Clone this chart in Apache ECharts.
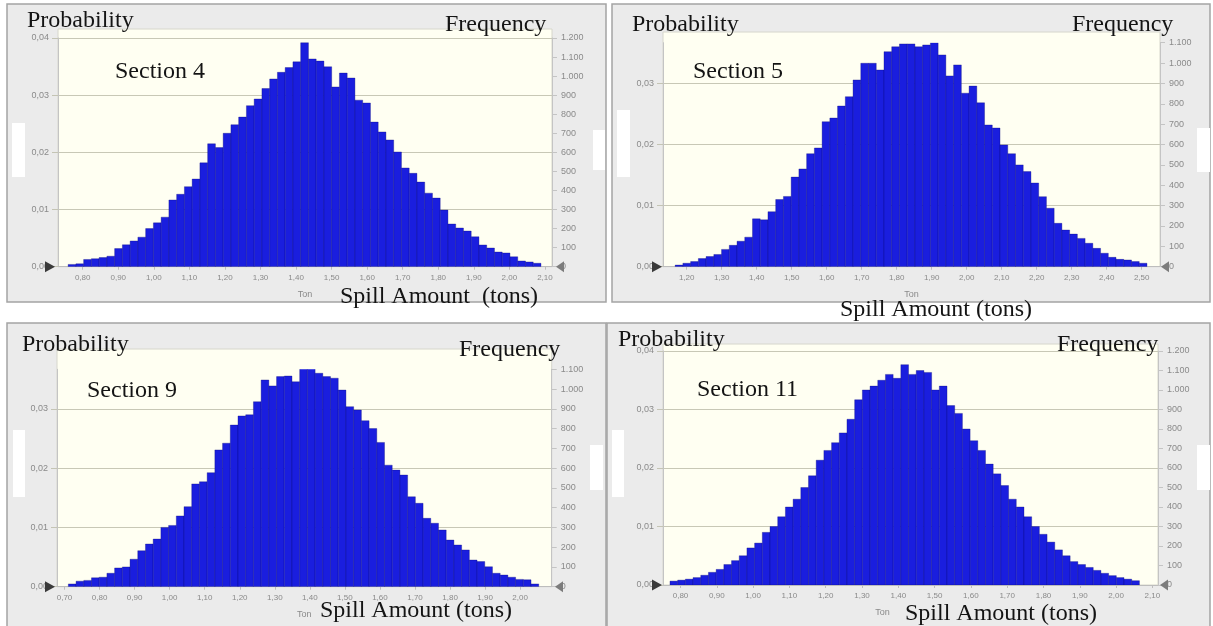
<!DOCTYPE html>
<html>
<head>
<meta charset="utf-8">
<script src="https://cdn.jsdelivr.net/npm/echarts@6/dist/echarts.min.js"></script>
<style>
  html, body { margin: 0; padding: 0; background: #ffffff; }
  #c { width: 1213px; height: 626px; }
</style>
</head>
<body>
<div id="c"></div>
<script>
// Monte Carlo forecast of spill amount, 30,000 trials per section.
// Each array holds the trial count per histogram bin.
const trials = 30000;

const section4Freq = [12, 15, 38, 42, 48, 55, 95, 115, 135, 155,
  200, 230, 260, 350, 380, 420, 460, 545, 645, 625,
  700, 745, 785, 845, 880, 935, 985, 1020, 1045, 1075,
  1175, 1090, 1079, 1049, 943, 1016, 990, 874, 859, 759,
  707, 665, 602, 518, 490, 444, 386, 360, 297, 224,
  203, 187, 157, 114, 98, 77, 72, 52, 30, 25, 18];
const section4Bins = [0.759, 0.0218];   // first bin edge, bin width (tons)

const section5Freq = [8, 17, 25, 40, 50, 60, 85, 105, 125, 145,
  235, 230, 270, 330, 345, 440, 480, 555, 583, 712,
  730, 789, 835, 917, 999, 999, 966, 1056, 1080, 1094,
  1094, 1080, 1089, 1100, 1040, 937, 991, 852, 887, 805,
  696, 681, 598, 555, 500, 467, 411, 344, 287, 213,
  180, 160, 139, 115, 90, 66, 46, 36, 33, 25, 17];
const section5Bins = [1.167, 0.0221];

const section9Freq = [14, 28, 32, 45, 48, 68, 95, 100, 139, 182,
  216, 241, 300, 310, 358, 405, 520, 531, 577, 692,
  726, 818, 864, 870, 936, 1046, 1016, 1063, 1066, 1037,
  1150, 1105, 1080, 1063, 1055, 995, 911, 894, 840, 800,
  730, 615, 590, 565, 455, 422, 346, 321, 287, 236,
  211, 186, 135, 127, 101, 68, 59, 48, 37, 35, 14];
const section9Bins = [0.711, 0.0220];

const section11Freq = [20, 25, 30, 38, 50, 65, 80, 105, 125, 150,
  190, 215, 270, 300, 350, 400, 440, 500, 560, 640,
  690, 730, 780, 850, 950, 1000, 1020, 1050, 1080, 1060,
  1130, 1080, 1100, 1090, 1000, 1020, 920, 880, 800, 740,
  690, 620, 570, 510, 440, 400, 350, 300, 260, 220,
  180, 150, 120, 105, 90, 75, 60, 48, 38, 30, 22];
const section11Bins = [0.771, 0.0212];

// Tick labels
const section4Ticks = [0.8, 0.9, 1.0, 1.1, 1.2, 1.3, 1.4, 1.5, 1.6, 1.7, 1.8, 1.9, 2.0, 2.1];
const section5Ticks = [1.2, 1.3, 1.4, 1.5, 1.6, 1.7, 1.8, 1.9, 2.0, 2.1, 2.2, 2.3, 2.4, 2.5];
const section9Ticks = [0.7, 0.8, 0.9, 1.0, 1.1, 1.2, 1.3, 1.4, 1.5, 1.6, 1.7, 1.8, 1.9, 2.0];
const section11Ticks = [0.8, 0.9, 1.0, 1.1, 1.2, 1.3, 1.4, 1.5, 1.6, 1.7, 1.8, 1.9, 2.0, 2.1];
const probTicksTo04 = [0, 0.01, 0.02, 0.03, 0.04];
const probTicksTo03 = [0, 0.01, 0.02, 0.03];
const freqTicksTo1200 = [0, 100, 200, 300, 400, 500, 600, 700, 800, 900, 1000, 1100, 1200];
const freqTicksTo1100 = [0, 100, 200, 300, 400, 500, 600, 700, 800, 900, 1000, 1100];

// Panel layout (pixels)
const panels = [
  {
    title: 'Section 4', freq: section4Freq, bins: section4Bins, ticks: section4Ticks,
    probTicks: probTicksTo04, freqTicks: freqTicksTo1200, freqMax: 1200,
    box: [7, 4, 599, 298], cream: [58, 29, 494, 237.7],
    grid: { left: 58, top: 38, width: 494, height: 228.7 }, xRange: [0.7305, 2.1198],
    prob: [27, 21], freqText: [445, 25], section: [115, 72],
    spill: [340, 297, 'Spill Amount  (tons)'], tonShift: 0,
    patches: [[12, 123, 13, 54], [593, 130, 12, 40]],
    tri: [45, 556, 266.7]
  },
  {
    title: 'Section 5', freq: section5Freq, bins: section5Bins, ticks: section5Ticks,
    probTicks: probTicksTo03, freqTicks: freqTicksTo1100, freqMax: 1100,
    box: [612, 4, 598, 298], cream: [663, 32, 497, 234.7],
    grid: { left: 663, top: 42.7, width: 497, height: 224 }, xRange: [1.1323, 2.5523],
    prob: [632, 25], freqText: [1072, 25], section: [693, 72],
    spill: [840, 310, 'Spill Amount (tons)'], tonShift: 0,
    patches: [[617, 110, 13, 67], [1197, 128, 13, 44]],
    tri: [652, 1161, 266.7]
  },
  {
    title: 'Section 9', freq: section9Freq, bins: section9Bins, ticks: section9Ticks,
    probTicks: probTicksTo03, freqTicks: freqTicksTo1100, freqMax: 1100,
    box: [7, 323, 599, 310], cream: [57, 349, 494.7, 237.7],
    grid: { left: 57, top: 369.3, width: 494.7, height: 217.4 }, xRange: [0.6786, 2.090],
    prob: [22, 345], freqText: [459, 350], section: [87, 391],
    spill: [320, 611, 'Spill Amount (tons)'], tonShift: 0,
    patches: [[13, 430, 12, 67], [590, 445, 13, 45]],
    tri: [45, 555, 586.7]
  },
  {
    title: 'Section 11', freq: section11Freq, bins: section11Bins, ticks: section11Ticks,
    probTicks: probTicksTo04, freqTicks: freqTicksTo1200, freqMax: 1200,
    box: [607, 323, 603, 310], cream: [663, 344, 495, 241],
    grid: { left: 663, top: 351, width: 495, height: 234 }, xRange: [0.7518, 2.1154],
    prob: [618, 340], freqText: [1057, 345], section: [697, 390],
    spill: [905, 614, 'Spill Amount (tons)'], tonShift: 56,
    patches: [[612, 430, 12, 67], [1197, 445, 13, 45]],
    tri: [652, 1160, 585]
  }
];

const SERIF = '"Liberation Serif", "Times New Roman", serif';
const SANS = '"Liberation Sans", Arial, sans-serif';
const fmtDec = v => v.toFixed(2).replace('.', ',');
const fmtCount = v => v >= 1000
  ? Math.floor(v / 1000) + '.' + String(v % 1000).padStart(3, '0')
  : String(v);

const grids = [], xAxes = [], yAxes = [], series = [], graphics = [];

panels.forEach((p, k) => {
  // frame, cream plot background and white patches
  graphics.push({
    type: 'rect', z: -20, silent: true,
    shape: { x: p.box[0], y: p.box[1], width: p.box[2], height: p.box[3] },
    style: { fill: '#ebebeb', stroke: '#a4a4a4', lineWidth: 1.5 }
  });
  graphics.push({
    type: 'rect', z: -19, silent: true,
    shape: { x: p.cream[0], y: p.cream[1], width: p.cream[2], height: p.cream[3] },
    style: { fill: '#fffff2', stroke: '#d6d6cc', lineWidth: 1 }
  });
  p.patches.forEach(r => graphics.push({
    type: 'rect', z: -18, silent: true,
    shape: { x: r[0], y: r[1], width: r[2], height: r[3] },
    style: { fill: '#ffffff' }
  }));

  grids.push(Object.assign({ show: false, outerBoundsMode: 'none', containLabel: false }, p.grid));

  xAxes.push({
    type: 'value', gridIndex: k, min: p.xRange[0], max: p.xRange[1],
    name: 'Ton', nameLocation: 'middle', nameGap: 23,
    nameTextStyle: { color: '#8a8a8a', fontSize: 9, fontFamily: SANS, padding: [0, p.tonShift, 0, 0] },
    axisLine: { show: true, lineStyle: { color: '#bdbdbd', width: 1 } },
    axisTick: { show: true, length: 3, customValues: p.ticks, lineStyle: { color: '#bdbdbd' } },
    axisLabel: { customValues: p.ticks, formatter: fmtDec, color: '#8a8a8a', fontSize: 8, fontFamily: SANS, margin: 7 },
    splitLine: { show: false }
  });

  // left: probability, right: frequency (same pixel scale, 1/trials)
  yAxes.push({
    type: 'value', gridIndex: k, position: 'left', min: 0, max: p.freqMax / trials,
    axisLine: { show: true, lineStyle: { color: '#c4c4c4', width: 1 } },
    axisTick: { show: true, length: 6, customValues: p.probTicks, lineStyle: { color: '#c4c4b4' } },
    axisLabel: { customValues: p.probTicks, formatter: fmtDec, color: '#8a8a8a', fontSize: 9, fontFamily: SANS, margin: 9 },
    splitLine: { show: true, lineStyle: { color: '#c8c8b6', width: 1 } }
  });
  yAxes.push({
    type: 'value', gridIndex: k, position: 'right', min: 0, max: p.freqMax,
    axisLine: { show: true, lineStyle: { color: '#c4c4c4', width: 1 } },
    axisTick: { show: true, length: 5, customValues: p.freqTicks, lineStyle: { color: '#c4c4c4' } },
    axisLabel: { customValues: p.freqTicks, formatter: fmtCount, color: '#8a8a8a', fontSize: 9, fontFamily: SANS, margin: 9 },
    splitLine: { show: false }
  });

  const start = p.bins[0], w = p.bins[1];
  series.push({
    type: 'custom', name: p.title, coordinateSystem: 'cartesian2d',
    xAxisIndex: k, yAxisIndex: 2 * k + 1, clip: true,
    encode: { x: [0, 1], y: 2 },
    data: p.freq.map((f, i) => [start + i * w, start + (i + 1) * w, f]),
    renderItem: (params, api) => {
      const a = api.coord([api.value(0), 0]);
      const b = api.coord([api.value(1), api.value(2)]);
      return {
        type: 'rect',
        shape: { x: a[0], y: b[1], width: b[0] - a[0], height: a[1] - b[1] },
        style: { fill: '#1a1ede', stroke: 'rgba(8,10,120,0.55)', lineWidth: 0.6 }
      };
    }
  });

  // certainty grabbers at the ends of the x axis
  const t = p.tri;
  graphics.push({
    type: 'polygon', z: 50, silent: true,
    shape: { points: [[t[0], t[2] - 5.5], [t[0] + 10, t[2]], [t[0], t[2] + 5.5]] },
    style: { fill: '#3a3a3a' }
  });
  graphics.push({
    type: 'polygon', z: 50, silent: true,
    shape: { points: [[t[1] + 8, t[2] - 5.5], [t[1], t[2]], [t[1] + 8, t[2] + 5.5]] },
    style: { fill: '#7c7c7c' }
  });

  const label = (x, y, text) => ({
    type: 'text', z: 60, silent: true, x: x, y: y,
    style: { text: text, font: '24px ' + SERIF, fill: '#141414',
      align: 'left', textAlign: 'left', verticalAlign: 'middle', textVerticalAlign: 'middle' }
  });
  graphics.push(label(p.prob[0], p.prob[1], 'Probability'));
  graphics.push(label(p.freqText[0], p.freqText[1], 'Frequency'));
  graphics.push(label(p.section[0], p.section[1], p.title));
  graphics.push(label(p.spill[0], p.spill[1], p.spill[2]));
});

const chart = echarts.init(document.getElementById('c'), null, { renderer: 'canvas' });
chart.setOption({
  animation: false,
  backgroundColor: '#ffffff',
  textStyle: { fontFamily: SANS },
  grid: grids,
  xAxis: xAxes,
  yAxis: yAxes,
  series: series,
  graphic: { elements: graphics }
});
</script>
</body>
</html>
